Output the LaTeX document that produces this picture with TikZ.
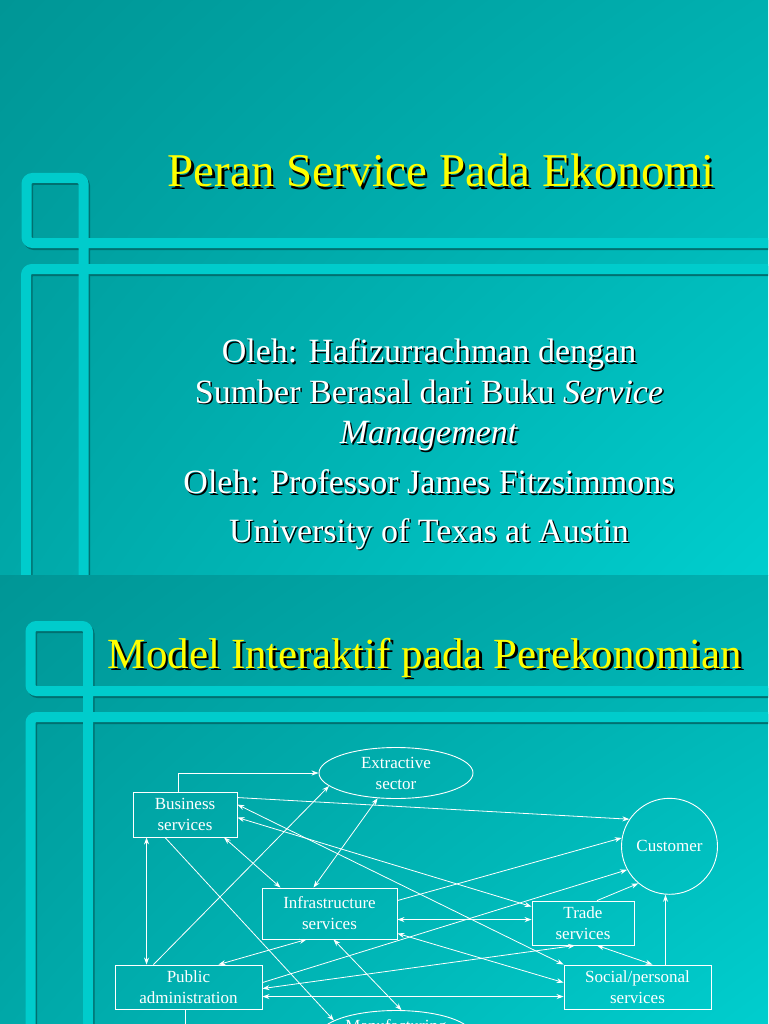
\documentclass[tikz,border=0pt]{standalone}
\usepackage{fontspec}
\setmainfont{Liberation Serif}
\usetikzlibrary{shapes.geometric,arrows.meta,shadings}

\definecolor{bardark}{RGB}{0,112,112}
\definecolor{barcol}{RGB}{0,204,204}
\definecolor{titleyellow}{RGB}{255,255,0}
\definecolor{bgA}{RGB}{0,150,150}
\definecolor{bgB}{RGB}{0,176,176}
\definecolor{bgC}{RGB}{0,168,168}
\definecolor{bgD}{RGB}{0,206,206}

\newcommand{\dropshadow}[2]{\rlap{\kern#1\raisebox{-#1}{\textcolor{black}{#2}}}#2}

\begin{document}
\begin{tikzpicture}[x=1pt,y=-1pt,>={Stealth[length=7pt,width=5pt]},
  bar/.style={line width=10pt,draw=barcol,rounded corners=6pt},
  barshadow/.style={line width=10pt,draw=bardark,rounded corners=6pt},
  slidebg/.style={upper left=bgA,upper right=bgB,lower left=bgC,lower right=bgD},
  slidetitle/.style={anchor=base,text=titleyellow,font=\fontsize{47}{56}\selectfont},
  subline/.style={anchor=base,text=white,font=\fontsize{34}{41}\selectfont},
  box/.style={draw=white,line width=0.9pt,text=white,align=center,inner sep=0pt,
    font=\fontsize{17}{21}\selectfont},
  oval/.style={box,ellipse,minimum width=154pt,minimum height=51pt},
  conn/.style={white,line width=0.8pt}]
\useasboundingbox (0,0) rectangle (768,1024);
\clip (0,0) rectangle (768,1024);

% first slide
\shade[slidebg] (0,0) rectangle (768,575);
\begin{scope}
\clip (0,0) rectangle (768,575);
\draw[barshadow,shift={(1.5,2)}] (780,243) -- (26.5,243) -- (26.5,178) -- (83.5,178) -- (83.5,590);
\draw[barshadow,shift={(1.5,2)}] (780,269) -- (26,269) -- (26,590);
\draw[bar] (780,243) -- (26.5,243) -- (26.5,178) -- (83.5,178) -- (83.5,590);
\draw[bar] (780,269) -- (26,269) -- (26,590);
\end{scope}

\node[slidetitle] (title1) at (441,187) {\dropshadow{2.5pt}{Peran Service Pada Ekonomi}};
\node[subline] (oleh1) at (429,362.5) {\dropshadow{1.5pt}{Oleh: Hafizurrachman dengan}};
\node[subline] (sumber) at (429,403) {\dropshadow{1.5pt}{Sumber Berasal dari Buku \textit{Service}}};
\node[subline] (mgmt) at (429,443.5) {\dropshadow{1.5pt}{\textit{Management}}};
\node[subline] (oleh2) at (429,493.5) {\dropshadow{1.5pt}{Oleh: Professor James Fitzsimmons}};
\node[subline] (univ) at (429,542) {\dropshadow{1.5pt}{University of Texas at Austin}};

% second slide
\shade[slidebg] (0,575) rectangle (768,1024);
\begin{scope}
\clip (0,575) rectangle (768,1024);
\draw[barshadow,shift={(1.5,2)}] (780,691) -- (30.5,691) -- (30.5,626) -- (88,626) -- (88,1040);
\draw[barshadow,shift={(1.5,2)}] (780,717) -- (30.5,717) -- (30.5,1040);
\draw[bar] (780,691) -- (30.5,691) -- (30.5,626) -- (88,626) -- (88,1040);
\draw[bar] (780,717) -- (30.5,717) -- (30.5,1040);
\end{scope}

\node[slidetitle,font=\fontsize{43}{52}\selectfont] (title2) at (425,668)
  {\dropshadow{2.5pt}{Model Interaktif pada Perekonomian}};

\node[box,minimum width=104pt,minimum height=45pt] (bus) at (185,814.5) {Business\\services};
\node[oval] (ext) at (396,773) {Extractive\\sector};
\node[box,circle,minimum size=96pt] (cust) at (669.5,846.3) {Customer};
\node[box,minimum width=135pt,minimum height=51pt] (inf) at (329.5,913.5) {Infrastructure\\services};
\node[box,minimum width=102pt,minimum height=44pt] (trade) at (583,923) {Trade\\services};
\node[box,minimum width=147pt,minimum height=44pt] (pub) at (188.5,987) {Public\\administration};
\node[box,minimum width=147pt,minimum height=44pt] (soc) at (637.5,987) {Social/personal\\services};
\node[oval] (man) at (396,1036) {Manufacturing\\sector};
\coordinate (pubout) at (185,1040);

\draw[conn,->] ([xshift=-7pt]bus.north) |- (ext.west);
\draw[conn,->] ([yshift=-6pt]bus.north east) -- (cust.146);
\draw[conn,<->] ([yshift=-13pt]bus.north east) -- (soc.north west);
\draw[conn,<->] ([yshift=-26pt]bus.north east) -- ([yshift=-6pt]trade.north west);
\draw[conn,<->] ([xshift=14pt]bus.south west) -- ([xshift=14pt]bus.south west |- pub.north);
\draw[conn,->] ([xshift=-20pt]bus.south) -- (man.166);
\draw[conn,<->] ([xshift=39pt]bus.south) -- ([xshift=-49pt]inf.north);
\draw[conn,->] ([xshift=-35pt]pub.north) -- (ext.191);
\draw[conn,<->] (ext.234) -- ([xshift=-16pt]inf.north);
\draw[conn,<->] ([xshift=-23pt]inf.south) -- ([xshift=30pt]pub.north);
\draw[conn,<->] ([xshift=4pt]inf.south) -- (man.78);
\draw[conn,->] ([yshift=-13pt]inf.north east) -- (cust.170);
\draw[conn,<->] ([yshift=-32pt]inf.north east) -- ([yshift=-19pt]trade.north west);
\draw[conn,<->] ([yshift=6pt]inf.south east) -- ([yshift=-18pt]soc.north west);
\draw[conn,->] ([yshift=-18pt]pub.north east) -- (cust.209);
\draw[conn,<->] ([yshift=-24pt]pub.north east) -- ([xshift=-8pt]trade.south);
\draw[conn,<->] ([yshift=-32pt]pub.north east) -- ([yshift=-32pt]soc.north west);
\draw[conn,->] ([xshift=14pt]trade.north) -- (cust.230);
\draw[conn,<->] ([xshift=14pt]trade.south) -- ([xshift=15pt]soc.north);
\draw[conn,->] ([xshift=28pt]soc.north) -- ([xshift=28pt]soc.north |- cust.south);
\draw[conn] ([xshift=-3.5pt]pub.south) -- (pubout);
\end{tikzpicture}
\end{document}
